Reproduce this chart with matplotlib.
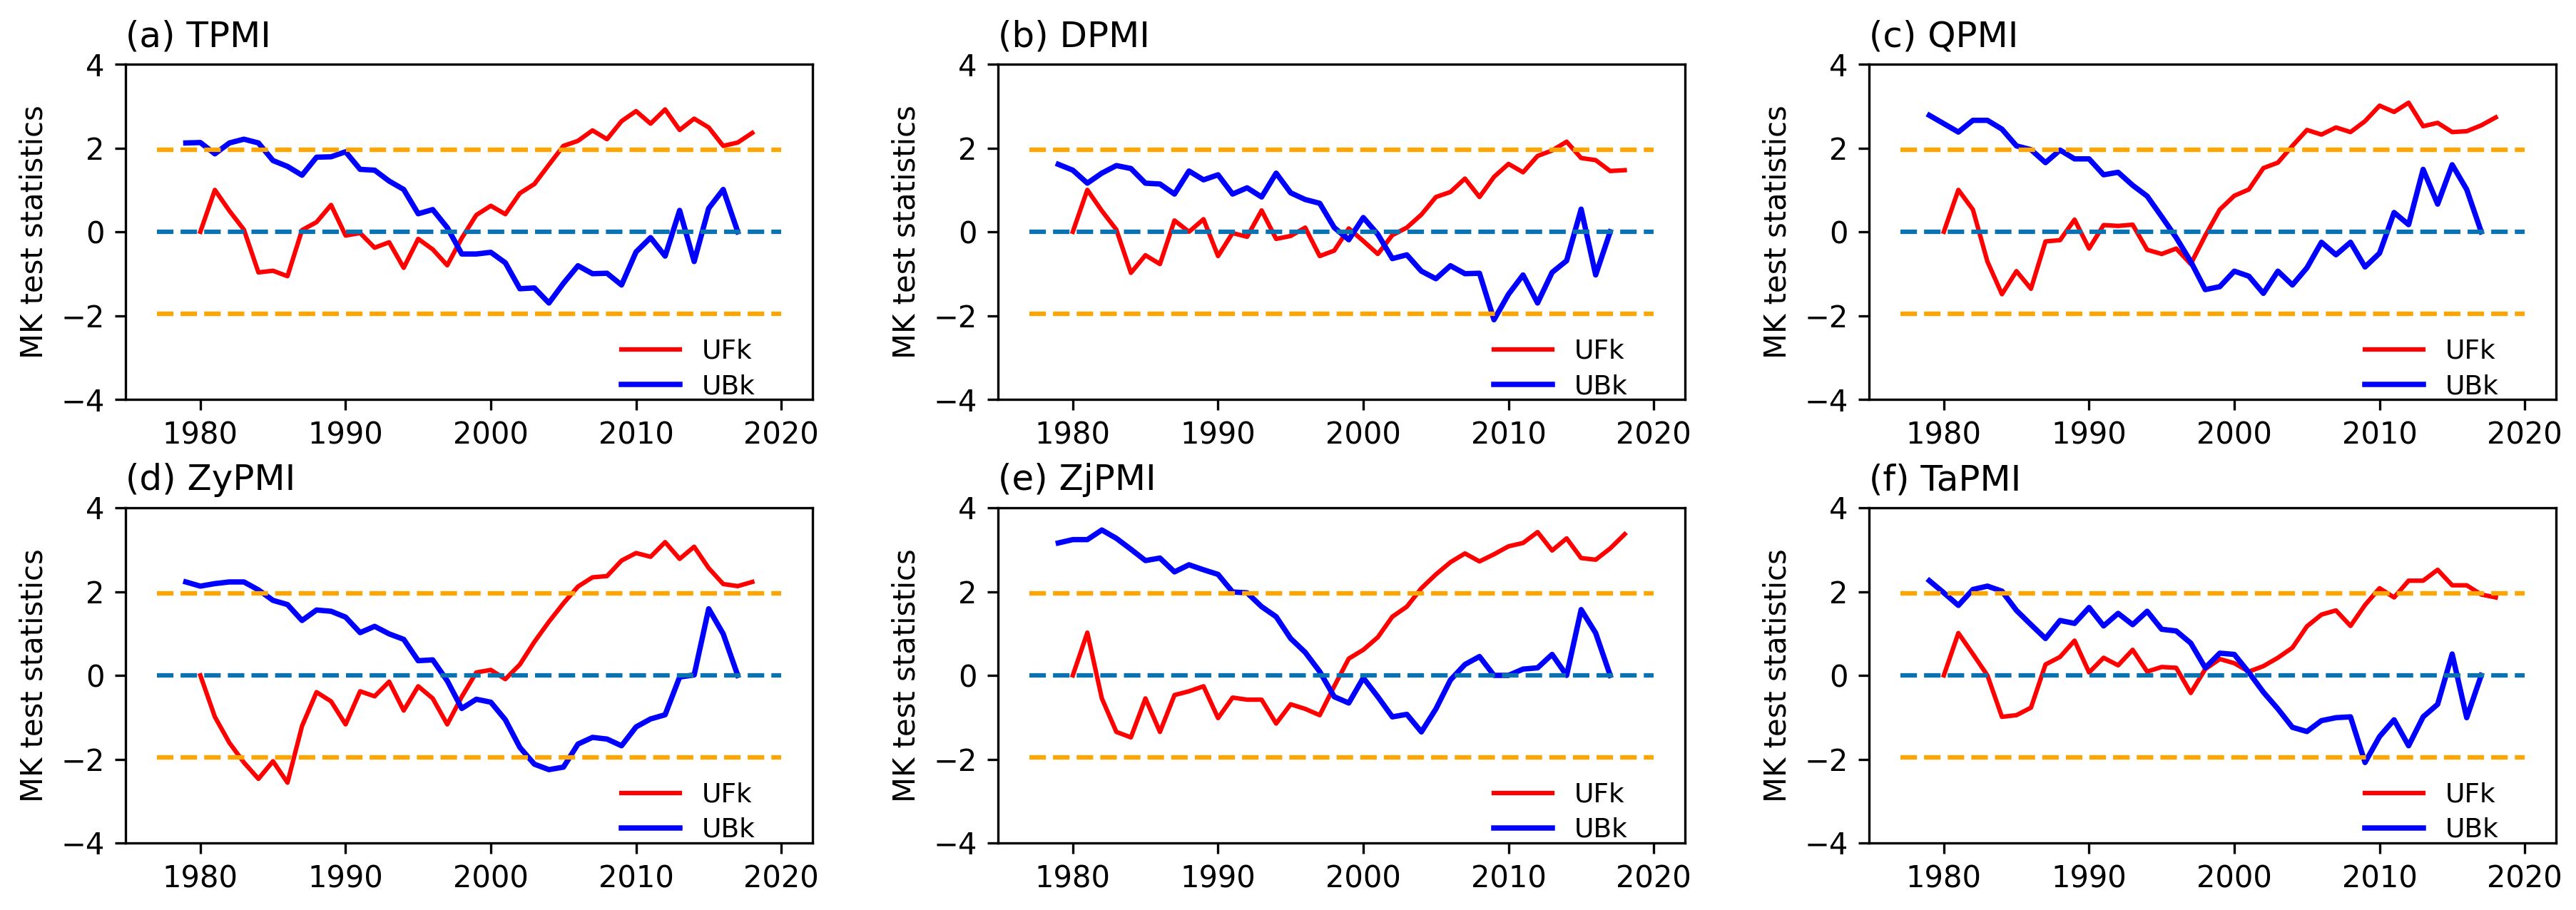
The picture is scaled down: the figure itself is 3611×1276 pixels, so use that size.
import numpy as np
import matplotlib
matplotlib.use("Agg")
import matplotlib.pyplot as plt

years_uf = list(range(1980, 2019))
years_ub = list(range(1979, 2018))

titles = ["(a) TPMI", "(b) DPMI", "(c) QPMI", "(d) ZyPMI", "(e) ZjPMI", "(f) TaPMI"]

uf_tpmi = [0, 1.0, 0.5, 0.05, -0.97, -0.93, -1.06, 0.04, 0.23, 0.64, -0.09, -0.03, -0.38, -0.25,
           -0.86, -0.17, -0.42, -0.8, -0.15, 0.4, 0.62, 0.42, 0.92, 1.14, 1.6, 2.05, 2.17, 2.42,
           2.21, 2.64, 2.88, 2.58, 2.92, 2.43, 2.70, 2.49, 2.05, 2.13, 2.36]
ub_tpmi = [2.12, 2.13, 1.86, 2.12, 2.21, 2.12, 1.7, 1.56, 1.35, 1.78, 1.79, 1.91, 1.49, 1.47,
           1.21, 1.01, 0.43, 0.53, 0.1, -0.53, -0.53, -0.49, -0.74, -1.36, -1.34, -1.70, -1.23,
           -0.81, -1.0, -0.99, -1.27, -0.48, -0.14, -0.58, 0.51, -0.71, 0.56, 1.01, 0]

uf_dpmi = [0, 1.0, 0.5, 0.05, -0.98, -0.56, -0.77, 0.27, 0.0, 0.3, -0.58, -0.03, -0.12, 0.51,
           -0.17, -0.1, 0.1, -0.58, -0.45, 0.08, -0.22, -0.53, -0.08, 0.1, 0.41, 0.83, 0.95, 1.27,
           0.83, 1.31, 1.62, 1.42, 1.81, 1.94, 2.15, 1.76, 1.71, 1.45, 1.47]
ub_dpmi = [1.61, 1.47, 1.16, 1.40, 1.58, 1.51, 1.16, 1.14, 0.9, 1.45, 1.24, 1.36, 0.9, 1.05,
           0.83, 1.40, 0.93, 0.77, 0.68, 0.1, -0.19, 0.34, -0.06, -0.64, -0.55, -0.94, -1.12,
           -0.81, -1.0, -0.99, -2.10, -1.49, -1.03, -1.70, -0.97, -0.69, 0.54, -1.03, 0]

uf_qpmi = [0, 1.0, 0.53, -0.71, -1.49, -0.94, -1.36, -0.23, -0.2, 0.29, -0.4, 0.16, 0.14, 0.17,
           -0.43, -0.53, -0.4, -0.77, -0.09, 0.53, 0.86, 1.01, 1.52, 1.65, 2.05, 2.43, 2.32, 2.49,
           2.38, 2.64, 3.01, 2.86, 3.08, 2.52, 2.60, 2.38, 2.40, 2.54, 2.73]
ub_qpmi = [2.78, 2.58, 2.38, 2.66, 2.66, 2.45, 2.05, 1.96, 1.65, 1.95, 1.74, 1.74, 1.36, 1.42,
           1.11, 0.85, 0.36, -0.14, -0.71, -1.38, -1.31, -0.94, -1.06, -1.47, -0.94, -1.27, -0.86,
           -0.25, -0.55, -0.25, -0.84, -0.51, 0.46, 0.17, 1.49, 0.66, 1.60, 1.01, 0]

uf_zypmi = [0, -0.99, -1.61, -2.08, -2.47, -2.05, -2.56, -1.21, -0.4, -0.62, -1.17, -0.38, -0.5,
            -0.15, -0.84, -0.26, -0.55, -1.17, -0.51, 0.07, 0.13, -0.09, 0.26, 0.80, 1.28, 1.72,
            2.12, 2.34, 2.37, 2.74, 2.92, 2.83, 3.18, 2.78, 3.07, 2.56, 2.18, 2.13, 2.23]
ub_zypmi = [2.23, 2.13, 2.19, 2.23, 2.23, 2.04, 1.79, 1.69, 1.31, 1.56, 1.53, 1.39, 1.02, 1.17,
            0.99, 0.86, 0.35, 0.37, -0.13, -0.79, -0.57, -0.64, -1.06, -1.72, -2.12, -2.25, -2.19,
            -1.64, -1.48, -1.52, -1.68, -1.23, -1.04, -0.94, -0.04, 0.01, 1.59, 0.99, 0]

uf_zjpmi = [0, 1.02, -0.55, -1.35, -1.48, -0.55, -1.35, -0.47, -0.38, -0.26, -1.02, -0.53, -0.58,
            -0.58, -1.15, -0.69, -0.80, -0.95, -0.26, 0.40, 0.61, 0.91, 1.40, 1.64, 2.08, 2.41,
            2.70, 2.91, 2.72, 2.89, 3.08, 3.16, 3.42, 2.98, 3.27, 2.80, 2.76, 3.03, 3.37]
ub_zjpmi = [3.16, 3.24, 3.24, 3.47, 3.27, 3.01, 2.74, 2.80, 2.47, 2.64, 2.52, 2.41, 1.99, 1.97,
            1.64, 1.40, 0.88, 0.55, 0.09, -0.51, -0.66, -0.06, -0.51, -0.99, -0.93, -1.35, -0.80,
            -0.11, 0.26, 0.45, 0.0, 0.0, 0.15, 0.18, 0.50, 0.0, 1.57, 1.01, 0]

uf_tapmi = [0, 1.01, 0.51, 0.0, -0.99, -0.95, -0.77, 0.26, 0.44, 0.83, 0.07, 0.42, 0.24, 0.61,
            0.09, 0.20, 0.18, -0.42, 0.15, 0.39, 0.29, 0.09, 0.22, 0.42, 0.66, 1.17, 1.45, 1.55,
            1.18, 1.68, 2.08, 1.86, 2.26, 2.26, 2.52, 2.15, 2.15, 1.93, 1.86]
ub_tapmi = [2.26, 1.97, 1.67, 2.05, 2.13, 2.01, 1.55, 1.21, 0.88, 1.31, 1.24, 1.62, 1.18, 1.48,
            1.21, 1.53, 1.10, 1.06, 0.77, 0.18, 0.53, 0.50, 0.07, -0.40, -0.80, -1.24, -1.34,
            -1.08, -1.01, -0.99, -2.08, -1.46, -1.06, -1.68, -0.99, -0.69, 0.51, -1.01, 0]

uf_all = [uf_tpmi, uf_dpmi, uf_qpmi, uf_zypmi, uf_zjpmi, uf_tapmi]
ub_all = [ub_tpmi, ub_dpmi, ub_qpmi, ub_zypmi, ub_zjpmi, ub_tapmi]

crit = 1.96
line_start, line_end = 1977, 2020
xticks = [1980, 1990, 2000, 2010, 2020]
yticks = [-4, -2, 0, 2, 4]

W, H = 3612, 1276
fig = plt.figure(figsize=(W / 300, H / 300), dpi=300)

lefts = [176, 1399, 2620]
tops = [90, 712]
aw, ah = 963, 470

for i in range(6):
    r, c = divmod(i, 3)
    l = lefts[c] / W
    b = 1 - (tops[r] + ah) / H
    ax = fig.add_axes([l, b, aw / W, ah / H])
    ax.plot(years_uf, uf_all[i], color="red", lw=1.5, label="UFk")
    ax.plot(years_ub, ub_all[i], color="blue", lw=1.8, label="UBk")
    ax.plot([line_start, line_end], [crit, crit], ls="--", color="orange", lw=1.5)
    ax.plot([line_start, line_end], [-crit, -crit], ls="--", color="orange", lw=1.5)
    ax.plot([line_start, line_end], [0, 0], ls="--", color="#0a72b0", lw=1.5)
    ax.set_xlim(1974.85, 2022.15)
    ax.set_ylim(-4, 4)
    ax.set_xticks(xticks)
    ax.set_yticks(yticks)
    ax.tick_params(labelsize=10)
    ax.set_ylabel("MK test statistics", fontsize=10)
    ax.set_title(titles[i], loc="left", fontsize=12)
    ax.legend(loc="lower right", bbox_to_anchor=(0.916, 0.0), frameon=False, fontsize=9,
              borderpad=0, borderaxespad=0, labelspacing=0.35, handlelength=2.2)

fig.savefig("out.png", dpi=300)
